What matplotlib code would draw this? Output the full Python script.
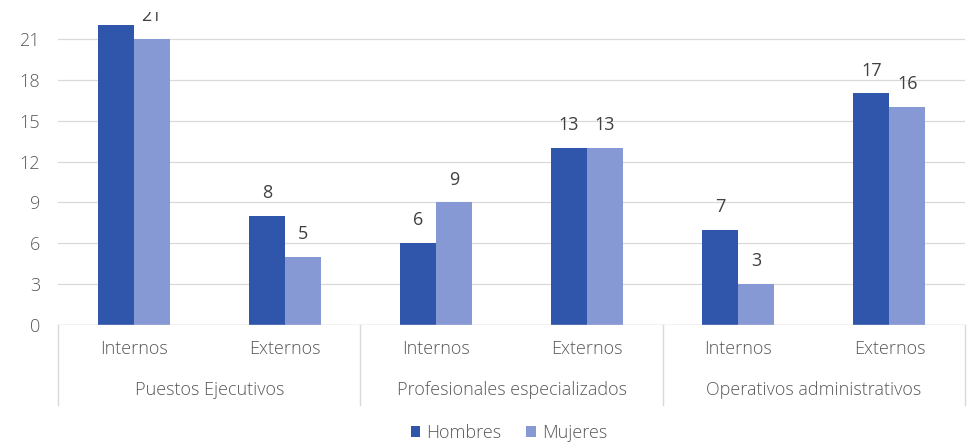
import numpy as np
import matplotlib
matplotlib.use("Agg")
from matplotlib import pyplot as plt
from matplotlib import transforms
from matplotlib.patches import Rectangle

# datos
grupos = ["Puestos Ejecutivos", "Profesionales especializados", "Operativos administrativos"]
subcategorias = ["Internos", "Externos", "Internos", "Externos", "Internos", "Externos"]
hombres = [22, 8, 6, 13, 7, 17]
mujeres = [21, 5, 9, 13, 3, 16]
series = ["Hombres", "Mujeres"]
yticks = [0, 3, 6, 9, 12, 15, 18, 21]

c_hombres = "#2f56ab"
c_mujeres = "#8699d5"
gris = "#595959"
linea = "#d9d9d9"

plt.rcParams["font.family"] = ["Open Sans", "DejaVu Sans"]

fig = plt.figure(figsize=(9.69, 4.46), dpi=100)
# eje recortado arriba como en la imagen original
ax = fig.add_axes([0.0599, 0.2713, 0.936, 0.733])

x = np.arange(len(subcategorias))
w = 0.238
b1 = ax.bar(x - w / 2, hombres, w, color=c_hombres, label=series[0], zorder=3)
b2 = ax.bar(x + w / 2, mujeres, w, color=c_mujeres, label=series[1], zorder=3)

for bars in (b1, b2):
    for rect in bars:
        h = rect.get_height()
        if h > 21.5:
            # etiqueta fuera del recorte de la imagen original
            continue
        ax.annotate(f"{h:g}", (rect.get_x() + rect.get_width() / 2, h),
                    xytext=(0, 10), textcoords="offset points",
                    ha="center", va="bottom", fontsize=13, color="#404040")

ax.set_xlim(-0.5, len(subcategorias) - 0.5)
ax.set_ylim(0, 24)
ax.set_yticks(yticks)
ax.yaxis.grid(True, color=linea, lw=0.9, zorder=0)
ax.set_axisbelow(True)
for s in ax.spines.values():
    s.set_visible(False)
ax.axhline(0, color=linea, lw=1.0, zorder=4)
ax.tick_params(axis="y", length=0, pad=13, labelsize=13, labelcolor=gris)
ax.tick_params(axis="x", length=0, pad=11, labelsize=13, labelcolor=gris)
ax.set_xticks(x, subcategorias)
for t in ax.get_xticklabels() + ax.get_yticklabels():
    t.set_fontweight("light")

# segundo nivel del eje x
trans = transforms.blended_transform_factory(ax.transData, ax.transAxes)
sep_bottom = -80 / 326.9
for i in range(len(grupos) + 1):
    xs = -0.5 + 2 * i
    ax.plot([xs, xs], [0, sep_bottom], transform=trans, color=linea, lw=1.0, clip_on=False)
for i, g in enumerate(grupos):
    ax.text(2 * i + 0.5, -65 / 326.9, g, transform=trans, ha="center", va="center",
            fontsize=13, color=gris, fontweight="light")

leg = fig.legend(loc="center", bbox_to_anchor=(0.525, 0.029), ncol=2, frameon=False,
                 fontsize=13, handlelength=0.55, handleheight=0.55, handletextpad=0.3,
                 columnspacing=1.4)
for t in leg.get_texts():
    t.set_color(gris)
    t.set_fontweight("light")

# franja superior tapada en la imagen original
fig.patches.append(Rectangle((0, 1 - 12 / 446), 1, 12 / 446, transform=fig.transFigure,
                             facecolor="white", edgecolor="none", zorder=10))

fig.savefig("out.png", dpi=100)
